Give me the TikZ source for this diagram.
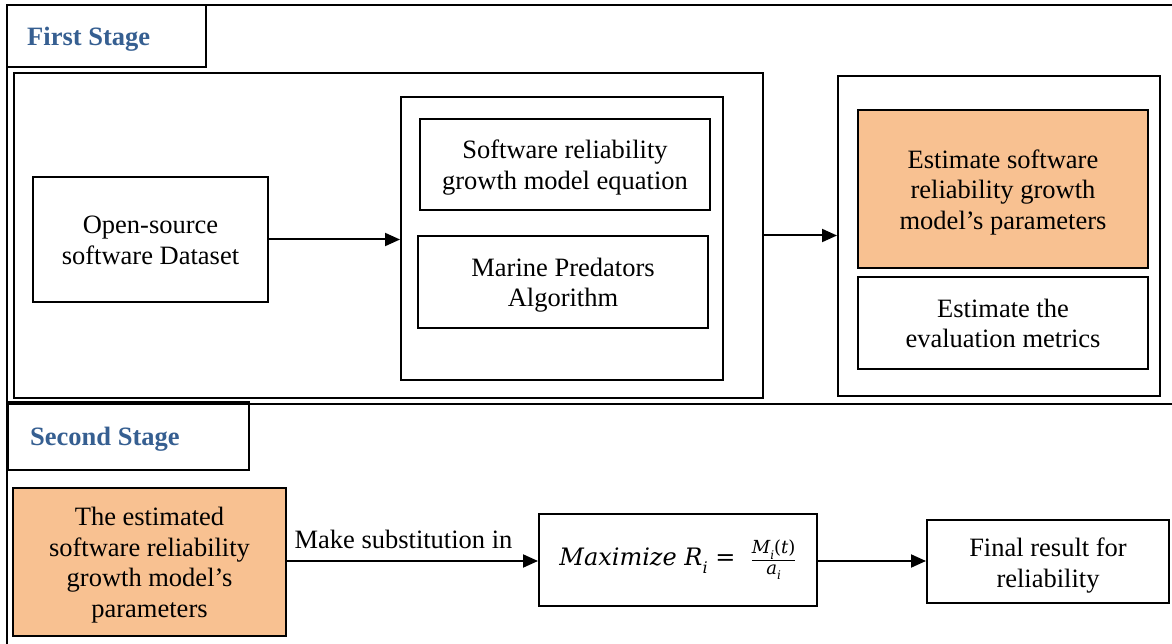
\documentclass[tikz,border=0pt]{standalone}
\usepackage{fontspec}
\setmainfont{Liberation Serif}
\newfontfamily\eqfont{DejaVu Serif}
\usetikzlibrary{arrows.meta}
\definecolor{stageblue}{RGB}{54,95,145}
\definecolor{paramorange}{RGB}{248,193,145}
% centred lines of text, set a little below the middle of their box
\newcommand\boxtext[1]{\raisebox{0pt}[\dimexpr\height+7pt\relax][\depth]{\begin{tabular}{@{}c@{}}#1\end{tabular}}}
\newcommand\sub[2]{#1\raisebox{-0.3em}{\fontsize{#2}{#2}\selectfont i}}
\tikzset{
  every node/.style={font=\fontsize{26.5}{30.5}\selectfont},
  frame/.style={line width=2pt},
  box/.style={draw, line width=2pt, rectangle, inner sep=0pt, align=center},
  filled/.style={box, fill=paramorange},
  stagelabel/.style={text=stageblue, font=\fontsize{26.5}{30.5}\selectfont\bfseries, anchor=west, inner sep=0pt},
  flow/.style={line width=2pt, -{Triangle[length=15pt,width=13pt]}}
}
\begin{document}
\begin{tikzpicture}[x=1pt,y=-1pt]
\useasboundingbox (0,0) rectangle (1172,644);
% outer frame of both stages
\draw[frame] (1172,5) -- (7,5) -- (7,644);
\draw[frame] (7,404) -- (1172,404);

% stage headers
\node[box, minimum width=199, minimum height=62] (s1box) at (106.5,36) {};
\node[stagelabel] (s1) at (27,39) {First Stage};
\node[box, minimum width=241, minimum height=68] (s2box) at (128.5,436) {};
\node[stagelabel] (s2) at (30,439.5) {Second Stage};

% first stage
\node[box, minimum width=749, minimum height=325] (left) at (388.5,235.5) {};
\node[box, minimum width=322, minimum height=283] (mid) at (562,238.5) {};
\node[box, minimum width=235, minimum height=125] (data) at (150.5,239.5) {\boxtext{Open-source\\software Dataset}};
\node[box, minimum width=290, minimum height=91] (eq) at (565,164.5) {\boxtext{Software reliability\\growth model equation}};
\node[box, minimum width=290, minimum height=92] (mpa) at (563,282) {\boxtext{Marine Predators\\Algorithm}};

\node[box, minimum width=322, minimum height=320] (right) at (999,236) {};
\node[filled, minimum width=290, minimum height=158] (est) at (1003,189) {\boxtext{Estimate software\\reliability growth\\model's parameters}};
\node[box, minimum width=290, minimum height=92] (metrics) at (1003,323) {\boxtext{Estimate the\\evaluation metrics}};

\draw[flow] (data.east) -- (data.east -| mid.west);
\draw[flow] (left.east) -- (left.east -| right.west);

% second stage
\node[filled, minimum width=273, minimum height=148] (params) at (149.5,562) {\boxtext{The estimated\\software reliability\\growth model's\\parameters}};
\node[box, minimum width=278, minimum height=92] (max) at (678,560)
  {\eqfont\itshape\fontsize{24}{27}\selectfont Maximize \sub{R}{16} =\ \ %
   $\frac{\hbox{\eqfont\itshape\fontsize{18}{18}\selectfont\sub{M}{12}\upshape(\itshape t\upshape)}}%
         {\hbox{\eqfont\itshape\fontsize{18}{18}\selectfont\sub{a}{12}}}$};
\node[box, minimum width=242, minimum height=83] (final) at (1048,561.5) {\raisebox{0pt}[\dimexpr\height+9pt\relax][\depth]{\begin{tabular}{@{}c@{}}Final result for\\reliability\end{tabular}}};

\draw[flow] (params.east |- 0,561) -- node[above=11pt, inner sep=0pt, xshift=-9pt] (sublabel) {Make substitution in} (max.west |- 0,561);
\draw[flow] (max.east |- 0,561) -- (final.west |- 0,561);
\end{tikzpicture}
\end{document}
